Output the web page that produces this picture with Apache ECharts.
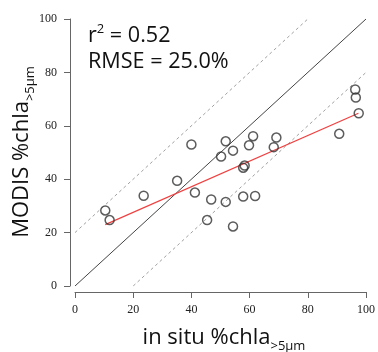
<!DOCTYPE html>
<html>
<head>
<meta charset="utf-8">
<script src="https://cdn.jsdelivr.net/npm/echarts@6/dist/echarts.min.js"></script>
<style>
  html, body { margin: 0; padding: 0; background: #fff; }
  #chart { width: 378px; height: 352px; }
</style>
</head>
<body>
<div id="chart"></div>
<script>
// in situ vs MODIS %chla>5um
var inSitu = [10.4, 11.9, 23.6, 35.1, 40.0, 41.2, 45.4, 46.8, 50.2, 51.8, 51.8, 54.3, 54.3,
    57.8, 58.3, 57.8, 59.8, 61.2, 61.9, 68.3, 69.2, 90.8, 96.3, 96.5, 97.5];
var modis = [28.3, 24.7, 33.8, 39.4, 53.0, 35.0, 24.7, 32.4, 48.5, 54.2, 31.5, 50.7, 22.3,
    44.3, 45.1, 33.5, 52.7, 56.1, 33.7, 52.0, 55.6, 57.0, 73.6, 70.6, 64.7];
var oneToOne = [[0, 0], [100, 100]];
var upperBand = [[0, 20], [80, 100]];
var lowerBand = [[20, 0], [100, 80]];
var fitLine = [[10.4, 23.0], [97.4, 64.7]];
var axisTicks = [0, 20, 40, 60, 80, 100];

var points = inSitu.map(function (x, i) { return [x, modis[i]]; });

var lineColor = '#666';
var sansFont = '"Open Sans", sans-serif';
var titleRich = {
    a: {fontSize: 22, lineHeight: 30, fill: '#111', fontFamily: sansFont},
    b: {fontSize: 13, lineHeight: 26, verticalAlign: 'bottom', fill: '#111', fontFamily: sansFont}
};

function makeAxis(isX) {
    return {
        type: 'value',
        min: axisTicks[0],
        max: axisTicks[axisTicks.length - 1],
        interval: 20,
        offset: isX ? 6 : 5,
        axisLine: {show: true, onZero: false, lineStyle: {color: lineColor, width: 1}},
        axisTick: {show: true, length: 6, lineStyle: {color: lineColor}},
        axisLabel: {
            color: '#222',
            fontSize: 12,
            fontFamily: '"Liberation Serif", "DejaVu Serif", serif',
            margin: isX ? 12 : 13
        },
        splitLine: {show: false}
    };
}

var option = {
    animation: false,
    backgroundColor: '#fff',
    grid: {left: 75, right: 9, top: 19, bottom: 66},
    xAxis: makeAxis(true),
    yAxis: makeAxis(false),
    graphic: [
        {
            type: 'text',
            left: 88,
            top: 23,
            style: {
                text: '{m|r}{s|2}{m| = 0.52}\n{m|RMSE = 25.0%}',
                rich: {
                    m: {fontSize: 21.6, lineHeight: 26, fill: '#111', fontFamily: sansFont},
                    s: {fontSize: 13, lineHeight: 13, verticalAlign: 'top', fill: '#111', fontFamily: sansFont}
                }
            }
        },
        {
            // x axis title
            type: 'text',
            x: 224,
            y: 338,
            style: {
                text: '{a|in situ %chla}{b|>5μm}',
                align: 'center',
                verticalAlign: 'middle',
                rich: titleRich
            }
        },
        {
            // y axis title
            type: 'text',
            x: 22,
            y: 152,
            rotation: Math.PI / 2,
            style: {
                text: '{a|MODIS %chla}{b|>5μm}',
                align: 'center',
                verticalAlign: 'middle',
                rich: titleRich
            }
        }
    ],
    series: [
        {
            type: 'line',
            data: oneToOne,
            symbol: 'none',
            lineStyle: {color: '#444', width: 1},
            z: 1
        },
        {
            type: 'line',
            data: upperBand,
            symbol: 'none',
            lineStyle: {color: '#a0a0a0', width: 1, type: [3, 3]},
            z: 1
        },
        {
            type: 'line',
            data: lowerBand,
            symbol: 'none',
            lineStyle: {color: '#a0a0a0', width: 1, type: [3, 3]},
            z: 1
        },
        {
            type: 'line',
            data: fitLine,
            symbol: 'none',
            lineStyle: {color: '#f04040', width: 1.2},
            z: 2
        },
        {
            type: 'scatter',
            data: points,
            symbol: 'circle',
            symbolSize: 9,
            itemStyle: {color: 'rgba(255,255,255,0)', borderColor: '#333', borderWidth: 1.5},
            z: 3
        }
    ]
};

var chart = echarts.init(document.getElementById('chart'));
chart.setOption(option);
</script>
</body>
</html>
